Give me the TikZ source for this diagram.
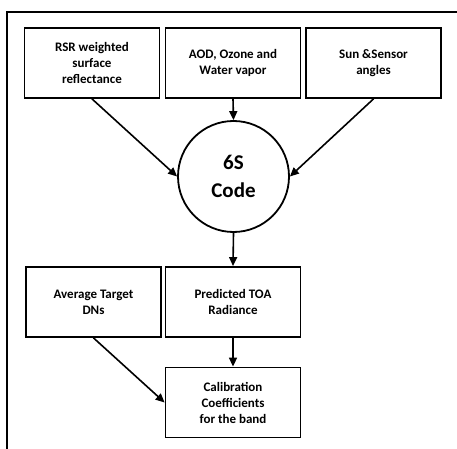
\documentclass[tikz,border=0pt]{standalone}
\usepackage{fontspec}
\setmainfont{Carlito}
\usetikzlibrary{arrows.meta}

\begin{document}
\begin{tikzpicture}[x=1bp,y=-1bp,
  inbox/.style={rectangle,draw,line width=1.8bp,minimum width=135bp,minimum height=70bp,inner sep=0pt,align=center,font=\fontsize{13bp}{16bp}\selectfont\bfseries},
  codecircle/.style={circle,draw,line width=1.8bp,minimum size=111bp,inner sep=0pt,align=center,font=\fontsize{21bp}{28bp}\selectfont\bfseries},
  flow/.style={line width=1.6bp,-{Triangle[length=9bp,width=8bp]}}]
\useasboundingbox (0,0) rectangle (457,449);
\draw[line width=2.5bp] (7,449) -- (7,12) -- (457,12);
\draw (92,63)node[inbox] (rsr) {RSR weighted\\ surface\\ reflectance};
\draw (233,63)node[inbox] (aod) {AOD, Ozone and\\ Water vapor};
\draw (373.5,63)node[inbox] (sun) {Sun \&Sensor\\ angles};
\draw (233.5,176.5)node[codecircle] (code) {6S\\ Code};
\draw (93.5,302)node[inbox] (dns) {Average Target\\ DNs};
\draw (233,302)node[inbox] (toa) {Predicted TOA\\ Radiance};
\draw (233,402.5)node[inbox] (cal) {Calibration\\ Coefficients\\ for the band};
\draw[flow] (rsr.south) -- (code.west);
\draw[flow] (aod.south) -- (code.north);
\draw[flow] (sun.south) -- (code.east);
\draw[flow] (code.south) -- (toa.north);
\draw[flow] (toa.south) -- (cal.north);
\draw[flow] (dns.south) -- (cal.west);
\end{tikzpicture}
\end{document}
